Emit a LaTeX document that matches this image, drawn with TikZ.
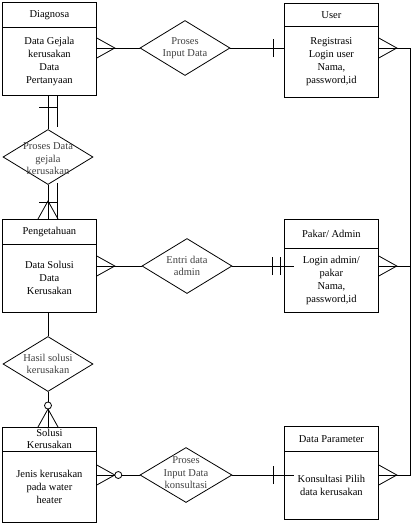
\documentclass[tikz,border=0pt]{standalone}
\usepackage{fontspec}
\setmainfont{Liberation Serif}
\usetikzlibrary{shapes.geometric, calc}

\tikzset{
    enthead/.style={draw, minimum width=94pt, minimum height=#1, inner sep=0pt, anchor=north west, align=center, font=\fontsize{10.5}{12}\selectfont},
    entbody/.style={draw, minimum width=94pt, minimum height=#1, inner sep=0pt, anchor=north west, align=center, font=\fontsize{10.5}{13}\selectfont},
    rel/.style={diamond, draw, minimum width=90pt, minimum height=55pt, inner sep=0pt},
    reltext/.style={align=center, text=black!75, font=\fontsize{10.5}{12.5}\selectfont},
    crow/.pic={\draw (0,-10) -- (18,0) -- (0,10); \draw (0,0) -- (18,0);},
    onebar/.pic={\draw (0,-9) -- (0,9);},
    zero/.style={draw, fill=white, circle, inner sep=0pt, minimum size=7pt},
}

\begin{document}
\begin{tikzpicture}[x=1pt,y=1pt,yscale=-1,xscale=1,line width=0.8pt]
    \useasboundingbox (0,0) rectangle (415,525);

    %Shape: Entity Diagnosa
    \node [enthead=25pt] (diagH) at (2,2) {Diagnosa};
    \node [entbody=68pt] (diagB) at (2,27) {Data Gejala\\kerusakan\\Data\\Pertanyaan};
    %Shape: Entity User
    \node [enthead=23pt] (userH) at (284,3) {User};
    \node [entbody=71pt] (userB) at (284,26) {Registrasi\\Login user\\Nama,\\password,id};
    %Shape: Entity Pengetahuan
    \node [enthead=25pt] (pengH) at (2,219) {Pengetahuan};
    \node [entbody=68pt] (pengB) at (2,244) {Data Solusi\\Data\\Kerusakan};
    %Shape: Entity Pakar
    \node [enthead=29pt] (pakH) at (284,219) {Pakar/ Admin};
    \node [entbody=64pt] (pakB) at (284,248) {Login admin/\\pakar\\Nama,\\password,id};
    %Shape: Entity Solusi
    \node [enthead=24pt] (solH) at (2,427) {Solusi\\Kerusakan};
    \node [entbody=71pt] (solB) at (2,451) {Jenis kerusakan\\pada water\\heater};
    %Shape: Entity Data Parameter
    \node [enthead=25pt] (dpH) at (284,426) {Data Parameter};
    \node [entbody=68pt] (dpB) at (284,451) {Konsultasi Pilih\\data kerusakan};

    %Shape: Relation diamonds
    \node [rel] (pid) at (185,48) {};
    \node [rel] (pdg) at (48,157) {};
    \node [rel] (eda) at (187,266) {};
    \node [rel] (hsk) at (48,364) {};
    \node [rel, minimum width=92pt] (pik) at (186,475) {};

    % Text Node
    \node [reltext] (pidT) at (pid) {Proses\\Input Data};
    % Text Node
    \node [reltext] (pdgT) at ($(pdg)+(0,2)$) {Proses Data\\gejala\\kerusakan};
    % Text Node
    \node [reltext] (edaT) at (eda) {Entri data\\admin};
    % Text Node
    \node [reltext] (hskT) at (hsk) {Hasil solusi\\kerusakan};
    % Text Node
    \node [reltext] (pikT) at ($(pik)+(0,-2)$) {Proses\\Input Data\\konsultasi};

    %Straight Lines: Diagnosa - Proses Input Data - User
    \draw (pid.west) -- (pid.west -| diagB.east) coordinate (c1);
    \pic at (c1) {crow};
    \draw (pid.east) -- (pid.east -| userB.west) coordinate (c2);
    \pic at ($(c2)+(-11,0)$) {onebar};

    %Straight Lines: Diagnosa - Proses Data gejala - Pengetahuan
    \draw (pdg.north) -- (pdg.north |- diagB.south) coordinate (c3);
    \draw ($(c3)+(9,0)$) -- ($(pdg.north)+(9,-2)$);
    \pic [rotate=90] at ($(c3)+(0,12)$) {onebar};
    \draw (pdg.south) -- (pdg.south |- pengH.north) coordinate (c4);
    \draw ($(pdg.south)+(9,-2)$) -- ($(c4)+(9,0)$);
    \pic [rotate=90] at (c4) {crow};
    \pic [rotate=90] at ($(c4)+(0,-17)$) {onebar};

    %Straight Lines: Pengetahuan - Entri data - Pakar
    \draw (eda.west) -- (eda.west -| pengB.east) coordinate (c5);
    \pic at (c5) {crow};
    \draw (eda.east) -- ($(eda.east -| pakB.west)+(10,0)$);
    \pic at ($(eda.east -| pakB.west)+(-12,0)$) {onebar};
    \pic at ($(eda.east -| pakB.west)+(-4,0)$) {onebar};

    %Straight Lines: Pengetahuan - Hasil solusi - Solusi
    \draw (hsk.north) -- (hsk.north |- pengB.south);
    \draw (hsk.south) -- (hsk.south |- solH.north) coordinate (c6);
    \pic [rotate=90] at (c6) {crow};
    \node [zero] (z1) at ($(c6)+(0,-21.5)$) {};

    %Straight Lines: Solusi - Proses Input Data konsultasi - Data Parameter
    \draw (pik.west) -- (pik.west -| solB.east) coordinate (c7);
    \pic at (c7) {crow};
    \node [zero] (z2) at ($(c7)+(21.5,0)$) {};
    \draw (pik.east) -- ($(pik.east -| dpB.west)+(10,0)$);
    \pic at ($(pik.east -| dpB.west)+(-11,0)$) {onebar};

    %Straight Lines: right side User - Pakar - Data Parameter
    \coordinate (rt) at ($(pid.east -| userB.east)+(32,0)$);
    \draw (pid.east -| userB.east) -- (rt) -- (rt |- pik.east) -- (pik.east -| dpB.east);
    \draw (eda.east -| pakB.east) -- (eda.east -| rt);
    \pic at (pid.east -| userB.east) {crow};
    \pic at (eda.east -| pakB.east) {crow};
    \pic at (pik.east -| dpB.east) {crow};

\end{tikzpicture}
\end{document}
